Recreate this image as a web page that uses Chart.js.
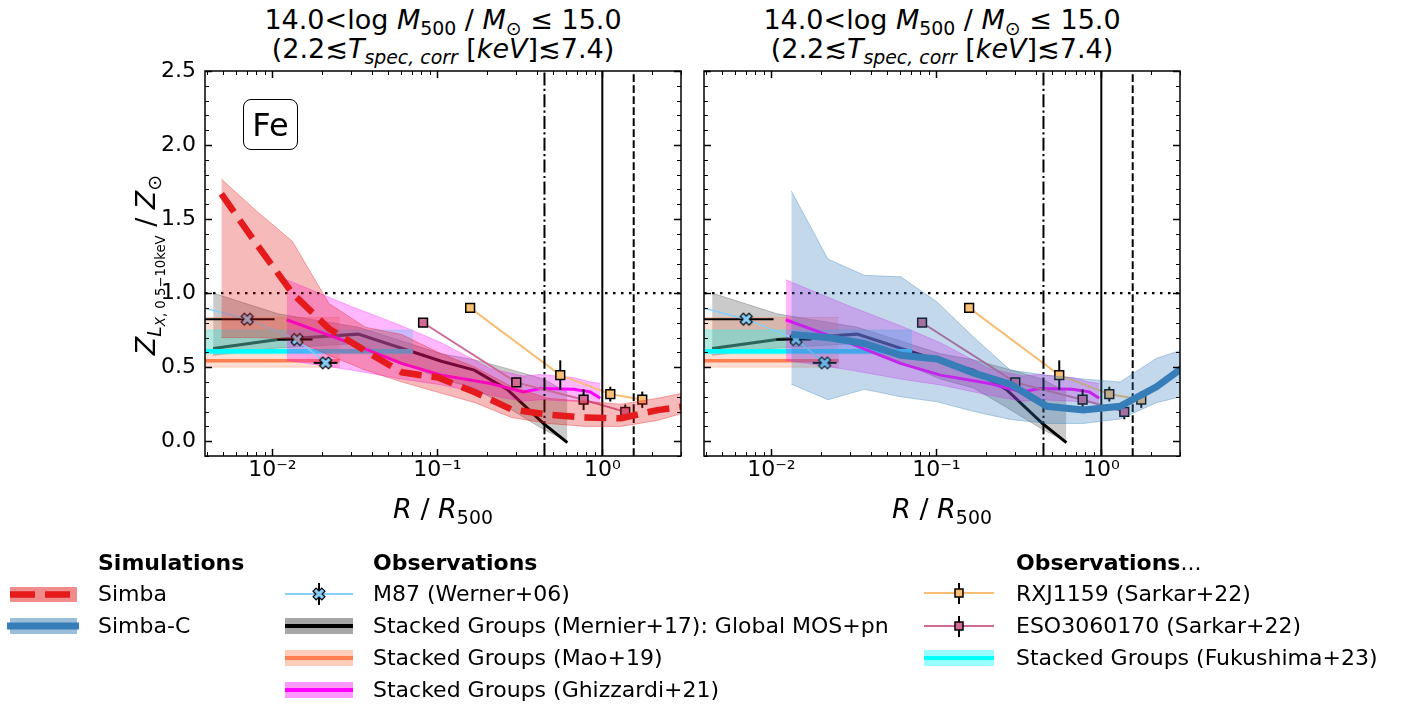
<!DOCTYPE html>
<html>
<head>
<meta charset="utf-8">
<script src="https://cdn.jsdelivr.net/npm/chart.js@4.4.1/dist/chart.umd.min.js"></script>
<style>
body { margin: 0; width: 1401px; height: 706px; background: #fff; color: #000;
       font-family: 'DejaVu Sans', sans-serif; position: relative; overflow: hidden; }
canvas { position: absolute; }
.title { position: absolute; top: 5px; width: 500px; text-align: center; font-size: 27px;
         line-height: 29px; white-space: nowrap; }
sub { font-size: 70%; vertical-align: -0.3em; line-height: 0; }
.xlab { position: absolute; top: 494px; width: 300px; text-align: center; font-size: 27px; line-height: 30px; }
.ylab { position: absolute; left: -4px; top: 248px; width: 300px; height: 34px; line-height: 34px;
        text-align: center; font-size: 27px; transform: rotate(-90deg); white-space: nowrap; }
.fe { position: absolute; left: 243px; top: 99px; width: 53px; height: 49px; border: 1.5px solid #000;
      border-radius: 8px; font-size: 32px; display: flex; align-items: center; justify-content: center; }
.leg { position: absolute; font-size: 22px; line-height: 24px; white-space: nowrap; }
</style>
</head>
<body>

<div class="title" style="left:193px">14.0&lt;log <i>M</i><sub>500</sub> / <i>M</i><sub>⊙</sub> ≤ 15.0<br>(2.2≲<i>T</i><sub><i>spec, corr</i></sub> [<i>keV</i>]≲7.4)</div>
<div class="title" style="left:692px">14.0&lt;log <i>M</i><sub>500</sub> / <i>M</i><sub>⊙</sub> ≤ 15.0<br>(2.2≲<i>T</i><sub><i>spec, corr</i></sub> [<i>keV</i>]≲7.4)</div>

<canvas id="left" width="546" height="453" style="left:145px;top:48px"></canvas>
<canvas id="right" width="496" height="453" style="left:694px;top:48px"></canvas>

<div class="fe">Fe</div>
<div class="ylab"><i>Z</i><sub><i>L</i><sub><i>X</i>, 0.5−10keV</sub></sub> / <i>Z</i><sub>⊙</sub></div>
<div class="xlab" style="left:293px"><i>R</i> / <i>R</i><sub>500</sub></div>
<div class="xlab" style="left:792px"><i>R</i> / <i>R</i><sub>500</sub></div>

<canvas id="legendHandles" width="1401" height="166" style="left:0;top:540px"></canvas>
<div class="leg" style="left:98px;top:551px"><b>Simulations</b></div>
<div class="leg" style="left:98px;top:582px">Simba</div>
<div class="leg" style="left:98px;top:614px">Simba-C</div>
<div class="leg" style="left:373px;top:551px"><b>Observations</b></div>
<div class="leg" style="left:373px;top:582px">M87 (Werner+06)</div>
<div class="leg" style="left:373px;top:614px">Stacked Groups (Mernier+17): Global MOS+pn</div>
<div class="leg" style="left:373px;top:646px">Stacked Groups (Mao+19)</div>
<div class="leg" style="left:373px;top:678px">Stacked Groups (Ghizzardi+21)</div>
<div class="leg" style="left:1016px;top:551px"><b>Observations</b>...</div>
<div class="leg" style="left:1016px;top:582px">RXJ1159 (Sarkar+22)</div>
<div class="leg" style="left:1016px;top:614px">ESO3060170 (Sarkar+22)</div>
<div class="leg" style="left:1016px;top:646px">Stacked Groups (Fukushima+23)</div>

<script>
// axis ranges and ticks
const xMin = 0.0039, xMax = 3.0;
const yMin = -0.1, yMax = 2.5;
const xTicks = [0.01, 0.1, 1];
const xTickLabels = ["10⁻²", "10⁻¹", "10⁰"];
const yTicks = [0, 0.5, 1, 1.5, 2, 2.5];
const yTickLabels = ["0.0", "0.5", "1.0", "1.5", "2.0", "2.5"];

// reference radii (R2500, R500, R200) and solar line
const refR = [0.446, 1.0, 1.55];
const solarZ = 1.0;

// Simba (left panel)
const simbaR   = [0.0049, 0.0079, 0.0132, 0.022, 0.0366, 0.0609, 0.101, 0.169, 0.281, 0.467, 0.778, 1.30, 2.16, 3.59];
const simbaMed = [1.67, 1.34, 1.00, 0.76, 0.61, 0.465, 0.43, 0.33, 0.215, 0.18, 0.16, 0.155, 0.21, 0.245];
const simbaLo  = [0.70, 0.70, 0.69, 0.58, 0.48, 0.40, 0.33, 0.26, 0.16, 0.12, 0.10, 0.10, 0.14, 0.21];
const simbaHi  = [1.77, 1.56, 1.35, 0.93, 0.77, 0.72, 0.60, 0.50, 0.37, 0.29, 0.27, 0.25, 0.29, 0.34];

// Simba-C (right panel)
const simbaCR   = [0.0132, 0.022, 0.0366, 0.0609, 0.101, 0.169, 0.281, 0.467, 0.778, 1.30, 2.16, 3.59];
const simbaCMed = [0.72, 0.70, 0.66, 0.58, 0.555, 0.46, 0.385, 0.236, 0.21, 0.236, 0.367, 0.547];
const simbaCLo  = [0.385, 0.28, 0.35, 0.30, 0.266, 0.20, 0.147, 0.12, 0.12, 0.15, 0.26, 0.32];
const simbaCHi  = [1.69, 1.23, 1.12, 1.11, 0.94, 0.70, 0.48, 0.445, 0.42, 0.40, 0.56, 0.64];

// M87 (Werner+06)
const m87R   = [0.0028, 0.00703, 0.0141, 0.0210];
const m87Z   = [0.94, 0.824, 0.687, 0.529];
const m87RLo = [0.0022, 0.0030, 0.0107, 0.0178];
const m87RHi = [0.0035, 0.0103, 0.0175, 0.0248];
const m87Err = [0.02, 0.02, 0.02, 0.02];

// Stacked groups (Mernier+17)
const mernierR  = [0.00437, 0.0108, 0.0331, 0.1058, 0.1675, 0.2653, 0.439, 0.614];
const mernierZ  = [0.626, 0.687, 0.723, 0.54, 0.48, 0.35, 0.12, -0.01];
const mernierLo = [0.58, 0.63, 0.66, 0.42, 0.36, 0.23, 0.08, 0.0];
const mernierHi = [1.00, 0.86, 0.77, 0.59, 0.55, 0.49, 0.42, 0.33];

// Stacked groups (Mao+19)
const maoR  = [0.003, 0.0256];
const maoZ  = [0.543, 0.543];
const maoLo = [0.50, 0.50];
const maoHi = [0.835, 0.835];

// Stacked groups (Fukushima+23)
const fukuR  = [0.003, 0.0713];
const fukuZ  = [0.608, 0.608];
const fukuLo = [0.59, 0.59];
const fukuHi = [0.75, 0.75];

// Stacked groups (Ghizzardi+21)
const ghizR  = [0.0122, 0.0301, 0.0605, 0.1058, 0.21, 0.332, 0.421, 0.667, 0.846, 0.972];
const ghizZ  = [0.82, 0.66, 0.525, 0.446, 0.39, 0.333, 0.356, 0.35, 0.333, 0.29];
const ghizLo = [0.547, 0.48, 0.42, 0.38, 0.31, 0.27, 0.28, 0.27, 0.26, 0.255];
const ghizHi = [1.09, 0.91, 0.78, 0.665, 0.49, 0.44, 0.45, 0.43, 0.40, 0.39];

// RXJ1159 (Sarkar+22)
const rxjR   = [0.158, 0.556, 1.118, 1.747];
const rxjZ   = [0.90, 0.446, 0.318, 0.28];
const rxjErr = [0.025, 0.10, 0.05, 0.055];

// ESO3060170 (Sarkar+22)
const esoR   = [0.0819, 0.301, 0.77, 1.378];
const esoZ   = [0.80, 0.397, 0.28, 0.198];
const esoErr = [0.02, 0.03, 0.07, 0.05];

const RED = "#e41a1c", BLUE = "#377eb8", SKY = "#87cefa", RXJC = "#f9bd74", ESOC = "#cf6a98";

function pts(xs, ys) {
    return xs.map((x, i) => ({ x: x, y: ys[i] }));
}

// filled X marker like matplotlib "X"
function makeXMarker(fill) {
    const c = document.createElement("canvas");
    c.width = 16; c.height = 16;
    const g = c.getContext("2d");
    const L = 6.2, t = 2.2;
    const poly = [[-t,-L],[t,-L],[t,-t],[L,-t],[L,t],[t,t],[t,L],[-t,L],[-t,t],[-L,t],[-L,-t],[-t,-t]];
    const a = Math.PI / 4;
    g.beginPath();
    poly.forEach((p, i) => {
        const x = 8 + p[0] * Math.cos(a) - p[1] * Math.sin(a);
        const y = 8 + p[0] * Math.sin(a) + p[1] * Math.cos(a);
        if (i === 0) g.moveTo(x, y); else g.lineTo(x, y);
    });
    g.closePath();
    g.fillStyle = fill;
    g.fill();
    g.lineWidth = 1.2;
    g.strokeStyle = "#000";
    g.stroke();
    return c;
}
const xMarker = makeXMarker(SKY);

function band(xs, lo, hi, fill, edge, order) {
    return [
        { data: pts(xs, hi), borderColor: edge, borderWidth: 1, backgroundColor: fill, fill: "+1", order: order },
        { data: pts(xs, lo), borderColor: edge, borderWidth: 1, fill: false, order: order }
    ];
}

function line(xs, ys, color, width, order, extra) {
    return Object.assign({ data: pts(xs, ys), borderColor: color, borderWidth: width, fill: false, order: order }, extra || {});
}

function yErrBars(xs, ys, es, order) {
    return xs.map((x, i) => ({
        data: [{ x: x, y: ys[i] - es[i] }, { x: x, y: ys[i] + es[i] }],
        borderColor: "#000", borderWidth: 2, fill: false, order: order
    }));
}

function xErrBars(lo, hi, ys, order) {
    return lo.map((x, i) => ({
        data: [{ x: x, y: ys[i] }, { x: hi[i], y: ys[i] }],
        borderColor: "#000", borderWidth: 2, fill: false, order: order
    }));
}

function observations() {
    let ds = [];
    ds = ds.concat(band(mernierR, mernierLo, mernierHi, "rgba(128,128,128,0.42)", "rgba(128,128,128,0.5)", 100));
    ds.push(line(mernierR, mernierZ, "#000", 3, 99));
    ds = ds.concat(band(maoR, maoLo, maoHi, "rgba(255,127,80,0.25)", "rgba(255,127,80,0.3)", 96));
    ds.push(line(maoR, maoZ, "#ff7f50", 3.5, 95));
    ds = ds.concat(band(fukuR, fukuLo, fukuHi, "rgba(0,255,255,0.3)", "rgba(0,255,255,0.35)", 92));
    ds.push(line(fukuR, fukuZ, "#00ffff", 4.5, 91));
    ds = ds.concat(band(ghizR, ghizLo, ghizHi, "rgba(255,0,255,0.28)", "rgba(255,0,255,0.3)", 88));
    ds.push(line(ghizR, ghizZ, "#ff00ff", 3, 87));
    ds = ds.concat(xErrBars(m87RLo, m87RHi, m87Z, 84));
    ds = ds.concat(yErrBars(m87R, m87Z, m87Err, 84));
    ds.push(line(m87R, m87Z, SKY, 1.5, 83, { pointStyle: xMarker, pointRadius: 6 }));
    ds = ds.concat(yErrBars(esoR, esoZ, esoErr, 80));
    ds.push(line(esoR, esoZ, ESOC, 2, 79, {
        pointStyle: "rect", pointRadius: 6.2, pointBackgroundColor: "#d36b97",
        pointBorderColor: "#000", pointBorderWidth: 1.5 }));
    ds = ds.concat(yErrBars(rxjR, rxjZ, rxjErr, 76));
    ds.push(line(rxjR, rxjZ, RXJC, 2, 75, {
        pointStyle: "rect", pointRadius: 6.2, pointBackgroundColor: "#fbbf74",
        pointBorderColor: "#000", pointBorderWidth: 1.5 }));
    // reference lines
    ds.push({ data: [{ x: xMin, y: solarZ }, { x: xMax, y: solarZ }], borderColor: "#000", borderWidth: 2.2,
              borderDash: [2.5, 5.5], fill: false, order: 60 });
    const dashes = [[13, 3.3, 2.2, 3.3], [], [7.7, 3.3]];
    refR.forEach((r, i) => {
        ds.push({ data: [{ x: r, y: yMin }, { x: r, y: yMax }], borderColor: "#000", borderWidth: 2,
                  borderDash: dashes[i], fill: false, order: 60 });
    });
    return ds;
}

// inward ticks on all four sides plus the frame
const frameTicks = {
    id: "frameTicks",
    afterDatasetsDraw(chart) {
        const { ctx, chartArea: a, scales: { x, y } } = chart;
        ctx.save();
        ctx.strokeStyle = "#000";
        const seg = (x0, y0, x1, y1, w) => {
            ctx.lineWidth = w;
            ctx.beginPath(); ctx.moveTo(x0, y0); ctx.lineTo(x1, y1); ctx.stroke();
        };
        for (let i = Math.round(yMin * 10); i <= Math.round(yMax * 10); i++) {
            const p = Math.round(y.getPixelForValue(i / 10)) + 0.5;
            const major = i % 5 === 0;
            const len = major ? 7 : 4, w = major ? 1.5 : 1;
            seg(a.left, p, a.left + len, p, w);
            seg(a.right, p, a.right - len, p, w);
        }
        for (let e = -3; e <= 1; e++) {
            for (let k = 1; k <= 9; k++) {
                const v = k * Math.pow(10, e);
                if (v < x.min || v > x.max) continue;
                const p = Math.round(x.getPixelForValue(v)) + 0.5;
                const major = k === 1;
                const len = major ? 7 : 4, w = major ? 1.5 : 1;
                seg(p, a.bottom, p, a.bottom - len, w);
                seg(p, a.top, p, a.top + len, w);
            }
        }
        ctx.lineWidth = 1.5;
        ctx.strokeRect(a.left, a.top, a.right - a.left, a.bottom - a.top);
        ctx.restore();
    }
};

Chart.defaults.font.family = "'DejaVu Sans', sans-serif";

function makeChart(id, datasets, showY, yWidth) {
    datasets.forEach(d => { d.clip = 0; d.tension = 0; if (d.pointRadius === undefined) d.pointRadius = 0; });
    return new Chart(document.getElementById(id), {
        type: "line",
        data: { datasets: datasets },
        options: {
            responsive: false,
            animation: false,
            events: [],
            layout: { padding: { top: 23, right: 10, left: 0, bottom: 0 } },
            plugins: { legend: { display: false }, tooltip: { enabled: false } },
            scales: {
                x: {
                    type: "logarithmic",
                    min: xMin,
                    max: xMax,
                    afterBuildTicks: s => { s.ticks = xTicks.map(v => ({ value: v })); },
                    afterFit: s => { s.height = 45; },
                    grid: { display: false, drawTicks: false },
                    border: { display: false },
                    ticks: {
                        color: "#000",
                        font: { size: 22 },
                        padding: 1,
                        maxRotation: 0,
                        minRotation: 0,
                        autoSkip: false,
                        callback: (v, i) => xTickLabels[i]
                    }
                },
                y: {
                    type: "linear",
                    min: yMin,
                    max: yMax,
                    afterBuildTicks: s => { s.ticks = yTicks.map(v => ({ value: v })); },
                    afterFit: s => { s.width = yWidth; },
                    grid: { display: false, drawTicks: false },
                    border: { display: false },
                    ticks: {
                        display: showY,
                        color: "#000",
                        font: { size: 22 },
                        padding: 9,
                        callback: (v, i) => yTickLabels[i]
                    }
                }
            }
        },
        plugins: [frameTicks]
    });
}

// left: Simba
let leftSets = observations();
leftSets = leftSets.concat(band(simbaR, simbaLo, simbaHi, "rgba(228,26,28,0.3)", "rgba(228,26,28,0.35)", 20));
leftSets.push(line(simbaR, simbaMed, RED, 6.5, 10, { borderDash: [22, 10] }));
makeChart("left", leftSets, true, 60);

// right: Simba-C
let rightSets = observations();
rightSets = rightSets.concat(band(simbaCR, simbaCLo, simbaCHi, "rgba(55,126,184,0.3)", "rgba(55,126,184,0.35)", 20));
rightSets.push(line(simbaCR, simbaCMed, BLUE, 7, 10));
makeChart("right", rightSets, false, 10);

// legend handles
function drawLegendHandles() {
    const c = document.getElementById("legendHandles");
    const g = c.getContext("2d");
    const top = 540;
    const rect = (x, y, w, h, fill) => { g.fillStyle = fill; g.fillRect(x, y - top, w, h); };
    const hl = (x0, x1, y, color, w, dash) => {
        g.save(); g.strokeStyle = color; g.lineWidth = w; g.setLineDash(dash || []);
        g.beginPath(); g.moveTo(x0, y - top); g.lineTo(x1, y - top); g.stroke(); g.restore();
    };
    const vl = (x, y0, y1) => {
        g.save(); g.strokeStyle = "#000"; g.lineWidth = 2;
        g.beginPath(); g.moveTo(x, y0 - top); g.lineTo(x, y1 - top); g.stroke(); g.restore();
    };
    const sq = (x, y, fill) => {
        g.fillStyle = fill; g.fillRect(x - 4, y - top - 4, 8, 8);
        g.strokeStyle = "#000"; g.lineWidth = 1.5; g.strokeRect(x - 4, y - top - 4, 8, 8);
    };
    // simulations
    rect(10, 587, 67, 15, "rgba(228,26,28,0.5)");
    hl(10, 77, 594.5, RED, 6.5, [25, 10]);
    rect(10, 618, 67, 16, "rgba(55,126,184,0.5)");
    hl(7, 79, 626, BLUE, 7);
    // observations
    hl(285, 353, 594, SKY, 2);
    vl(319, 583, 605);
    g.drawImage(xMarker, 319 - 8, 594 - top - 8);
    rect(285, 618, 68, 16, "rgba(128,128,128,0.7)");
    hl(285, 353, 626, "#000", 4);
    rect(285, 650, 68, 16, "rgba(255,127,80,0.4)");
    hl(285, 353, 658, "#ff7f50", 4);
    rect(285, 682, 68, 16, "rgba(255,0,255,0.4)");
    hl(285, 353, 690, "#ff00ff", 4);
    // observations ...
    hl(924, 994, 593, RXJC, 2);
    vl(959, 583, 604);
    sq(959, 593, "#fbbf74");
    hl(924, 994, 626, ESOC, 2);
    vl(959, 616, 637);
    sq(959, 626, "#d36b97");
    rect(924, 650, 70, 16, "rgba(0,255,255,0.4)");
    hl(924, 994, 658, "#00ffff", 4);
}
drawLegendHandles();
</script>
</body>
</html>
